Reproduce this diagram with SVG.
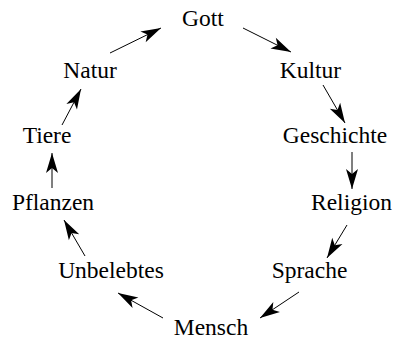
<svg xmlns="http://www.w3.org/2000/svg" width="396" height="340" viewBox="0 0 396 340">
  <style>
    text { font-family: 'Liberation Serif', 'Times New Roman', 'DejaVu Serif', serif; font-size: 23.5px; fill: #000; text-anchor: middle; }
    .arc { stroke: #000; stroke-width: 1; fill: none; marker-end: url(#head); }
  </style>
  <defs>
    <!-- barbed arrowhead, tip at the end of each connector -->
    <marker id="head" markerUnits="userSpaceOnUse" markerWidth="24" markerHeight="16" viewBox="-22 -8 24 16" refX="0" refY="0" orient="auto">
      <path d="M0,0 L-20,-6 L-15,0 L-20,6 Z" fill="#000"/>
    </marker>
  </defs>
  <rect width="396" height="340" fill="#fff"/>

  <g id="connectors">
    <line class="arc" x1="110" y1="53" x2="161" y2="28"/>
    <line class="arc" x1="243" y1="28" x2="291" y2="52"/>
    <line class="arc" x1="323" y1="85" x2="345" y2="123"/>
    <line class="arc" x1="352" y1="152" x2="352" y2="189"/>
    <line class="arc" x1="347" y1="225" x2="327" y2="258"/>
    <line class="arc" x1="299" y1="292" x2="260" y2="318"/>
    <line class="arc" x1="163" y1="318" x2="118" y2="293"/>
    <line class="arc" x1="85" y1="256" x2="64" y2="220"/>
    <line class="arc" x1="52" y1="188" x2="52" y2="153"/>
    <line class="arc" x1="62" y1="125" x2="81" y2="89"/>
  </g>

  <g id="gott"><text x="203" y="26">Gott</text></g>
  <g id="kultur"><text x="310.5" y="78">Kultur</text></g>
  <g id="geschichte"><text x="335" y="143">Geschichte</text></g>
  <g id="religion"><text x="351.5" y="210">Religion</text></g>
  <g id="sprache"><text x="309.5" y="278">Sprache</text></g>
  <g id="mensch"><text x="211" y="335">Mensch</text></g>
  <g id="unbelebtes"><text x="111" y="278">Unbelebtes</text></g>
  <g id="pflanzen"><text x="53" y="210">Pflanzen</text></g>
  <g id="tiere"><text x="47" y="143">Tiere</text></g>
  <g id="natur"><text x="90" y="78">Natur</text></g>
</svg>
